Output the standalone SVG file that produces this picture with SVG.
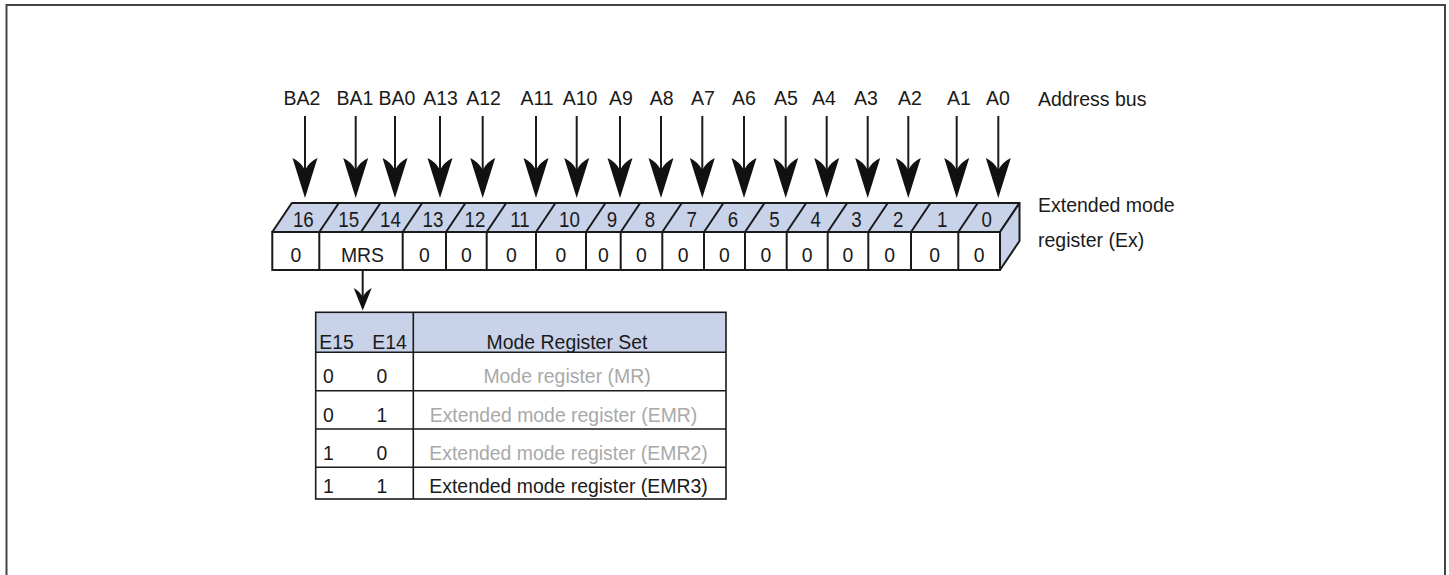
<svg xmlns="http://www.w3.org/2000/svg" width="1449" height="575" viewBox="0 0 1449 575">
<style>
text{font-family:"Liberation Sans",Arial,sans-serif;font-size:19.5px;fill:#1a1a1a}
.c{text-anchor:middle}
.n text{font-size:21px}
.d text{font-size:22px}
text.g{fill:#a9a9a9}
.band{fill:#c8d2e8;stroke:#1a1a1a;stroke-width:2;stroke-linejoin:round}
.ln{stroke:#1a1a1a;stroke-width:2;fill:none}
.tl{stroke:#1a1a1a;stroke-width:1.6;fill:none}
.shaft{stroke:#1a1a1a;stroke-width:2}
.hd{fill:#111}
</style>
<defs>
<path id="ah" class="hd" d="M-12.5,0 Q-4,4 0,12 Q4,4 12.5,0 L0,40 Z"/>
</defs>
<rect x="6.5" y="5" width="1438.5" height="600" fill="#fff" stroke="#444" stroke-width="2"/>

<g id="address-bus">
<text class="c" x="302" y="105">BA2</text>
<text class="c" x="355" y="105">BA1</text>
<text class="c" x="397" y="105">BA0</text>
<text class="c" x="440.5" y="105">A13</text>
<text class="c" x="483.5" y="105">A12</text>
<text class="c" x="537" y="105">A11</text>
<text class="c" x="580" y="105">A10</text>
<text class="c" x="621" y="105">A9</text>
<text class="c" x="661.7" y="105">A8</text>
<text class="c" x="703" y="105">A7</text>
<text class="c" x="744" y="105">A6</text>
<text class="c" x="786" y="105">A5</text>
<text class="c" x="824" y="105">A4</text>
<text class="c" x="866" y="105">A3</text>
<text class="c" x="910" y="105">A2</text>
<text class="c" x="959" y="105">A1</text>
<text class="c" x="998" y="105">A0</text>
<text x="1038" y="106">Address bus</text>
</g>

<g id="connectors">
<g class="shaft">
<line x1="305" y1="116" x2="305" y2="170"/>
<line x1="355.7" y1="116" x2="355.7" y2="170"/>
<line x1="395" y1="116" x2="395" y2="170"/>
<line x1="440" y1="116" x2="440" y2="170"/>
<line x1="482.7" y1="116" x2="482.7" y2="170"/>
<line x1="536" y1="116" x2="536" y2="170"/>
<line x1="576.7" y1="116" x2="576.7" y2="170"/>
<line x1="620" y1="116" x2="620" y2="170"/>
<line x1="661" y1="116" x2="661" y2="170"/>
<line x1="702.3" y1="116" x2="702.3" y2="170"/>
<line x1="744" y1="116" x2="744" y2="170"/>
<line x1="785.7" y1="116" x2="785.7" y2="170"/>
<line x1="826.7" y1="116" x2="826.7" y2="170"/>
<line x1="867.7" y1="116" x2="867.7" y2="170"/>
<line x1="908.3" y1="116" x2="908.3" y2="170"/>
<line x1="956.7" y1="116" x2="956.7" y2="170"/>
<line x1="998.3" y1="116" x2="998.3" y2="170"/>
</g>
<use href="#ah" x="305" y="158"/>
<use href="#ah" x="355.7" y="158"/>
<use href="#ah" x="395" y="158"/>
<use href="#ah" x="440" y="158"/>
<use href="#ah" x="482.7" y="158"/>
<use href="#ah" x="536" y="158"/>
<use href="#ah" x="576.7" y="158"/>
<use href="#ah" x="620" y="158"/>
<use href="#ah" x="661" y="158"/>
<use href="#ah" x="702.3" y="158"/>
<use href="#ah" x="744" y="158"/>
<use href="#ah" x="785.7" y="158"/>
<use href="#ah" x="826.7" y="158"/>
<use href="#ah" x="867.7" y="158"/>
<use href="#ah" x="908.3" y="158"/>
<use href="#ah" x="956.7" y="158"/>
<use href="#ah" x="998.3" y="158"/>
<line class="shaft" x1="362.7" y1="270" x2="362.7" y2="298"/>
<path class="hd" d="M353.7,288 Q359.5,291 362.7,297 Q366,291 371.7,288 L362.7,310.5 Z"/>
</g>

<g id="register">
<polygon class="band" points="272.3,232 291.8,203 1019.5,203 1000,232"/>
<polygon class="band" points="1000,232 1019.5,203 1019.5,241 1000,270"/>
<rect x="272.3" y="232" width="727.7" height="38" fill="#fff" stroke="#1a1a1a" stroke-width="2"/>
<g class="ln">
<path d="M319.3,232 l19.5,-29 M361,232 l19.5,-29 M402.7,232 l19.5,-29 M446,232 l19.5,-29 M486.7,232 l19.5,-29 M536,232 l19.5,-29 M586,232 l19.5,-29 M620.7,232 l19.5,-29 M662.3,232 l19.5,-29 M704,232 l19.5,-29 M745,232 l19.5,-29 M786.7,232 l19.5,-29 M827.7,232 l19.5,-29 M868.3,232 l19.5,-29 M911,232 l19.5,-29 M958.3,232 l19.5,-29"/>
<path d="M319.3,232 V270 M402.7,232 V270 M446,232 V270 M486.7,232 V270 M536,232 V270 M586,232 V270 M620.7,232 V270 M662.3,232 V270 M704,232 V270 M745,232 V270 M786.7,232 V270 M827.7,232 V270 M868.3,232 V270 M911,232 V270 M958.3,232 V270"/>
</g>
<g class="c d">
<text transform="translate(303.3,226.5) scale(.85,1)">16</text>
<text transform="translate(348.7,226.5) scale(.85,1)">15</text>
<text transform="translate(390.4,226.5) scale(.85,1)">14</text>
<text transform="translate(432.9,226.5) scale(.85,1)">13</text>
<text transform="translate(474.9,226.5) scale(.85,1)">12</text>
<text transform="translate(519.9,226.5) scale(.85,1)">11</text>
<text transform="translate(569.5,226.5) scale(.85,1)">10</text>
<text transform="translate(611.9,226.5) scale(.85,1)">9</text>
<text transform="translate(650,226.5) scale(.85,1)">8</text>
<text transform="translate(691.7,226.5) scale(.85,1)">7</text>
<text transform="translate(733,226.5) scale(.85,1)">6</text>
<text transform="translate(774.4,226.5) scale(.85,1)">5</text>
<text transform="translate(815.7,226.5) scale(.85,1)">4</text>
<text transform="translate(856.5,226.5) scale(.85,1)">3</text>
<text transform="translate(898.2,226.5) scale(.85,1)">2</text>
<text transform="translate(942.2,226.5) scale(.85,1)">1</text>
<text transform="translate(986.7,226.5) scale(.85,1)">0</text>
</g>
<g class="c n">
<text transform="translate(295.8,262) scale(.925,1)">0</text>
<text transform="translate(362.5,262) scale(.925,1)">MRS</text>
<text transform="translate(424.4,262) scale(.925,1)">0</text>
<text transform="translate(466.4,262) scale(.925,1)">0</text>
<text transform="translate(511.4,262) scale(.925,1)">0</text>
<text transform="translate(561,262) scale(.925,1)">0</text>
<text transform="translate(603.4,262) scale(.925,1)">0</text>
<text transform="translate(641.5,262) scale(.925,1)">0</text>
<text transform="translate(683.2,262) scale(.925,1)">0</text>
<text transform="translate(724.5,262) scale(.925,1)">0</text>
<text transform="translate(765.9,262) scale(.925,1)">0</text>
<text transform="translate(807.2,262) scale(.925,1)">0</text>
<text transform="translate(848,262) scale(.925,1)">0</text>
<text transform="translate(889.7,262) scale(.925,1)">0</text>
<text transform="translate(934.7,262) scale(.925,1)">0</text>
<text transform="translate(979.2,262) scale(.925,1)">0</text>
</g>
<text x="1038" y="212">Extended mode</text>
<text x="1038" y="247">register (Ex)</text>
</g>

<g id="mrs-table">
<rect x="315.7" y="312.3" width="410.3" height="40" fill="#c8d2e8"/>
<rect x="315.7" y="312.3" width="410.3" height="186.7" class="tl"/>
<path class="tl" d="M315.7,352.3 H726 M315.7,390.7 H726 M315.7,429 H726 M315.7,467.3 H726 M413.3,312.3 V499"/>
<g class="c n">
<text transform="translate(336.5,349) scale(.925,1)">E15</text>
<text transform="translate(389.5,349) scale(.925,1)">E14</text>
<text transform="translate(567,349) scale(.925,1)">Mode Register Set</text>
<text transform="translate(328.3,383.3) scale(.925,1)">0</text>
<text transform="translate(382,383.3) scale(.925,1)">0</text>
<text class="g" transform="translate(567,383.3) scale(.925,1)">Mode register (MR)</text>
<text transform="translate(328.3,421.7) scale(.925,1)">0</text>
<text transform="translate(382,421.7) scale(.925,1)">1</text>
<text class="g" transform="translate(563.5,421.7) scale(.925,1)">Extended mode register (EMR)</text>
<text transform="translate(328.3,460) scale(.925,1)">1</text>
<text transform="translate(382,460) scale(.925,1)">0</text>
<text class="g" transform="translate(568.5,460) scale(.925,1)">Extended mode register (EMR2)</text>
<text transform="translate(328.3,493.3) scale(.925,1)">1</text>
<text transform="translate(382,493.3) scale(.925,1)">1</text>
<text transform="translate(568.5,493.3) scale(.925,1)">Extended mode register (EMR3)</text>
</g>
</g>
</svg>
